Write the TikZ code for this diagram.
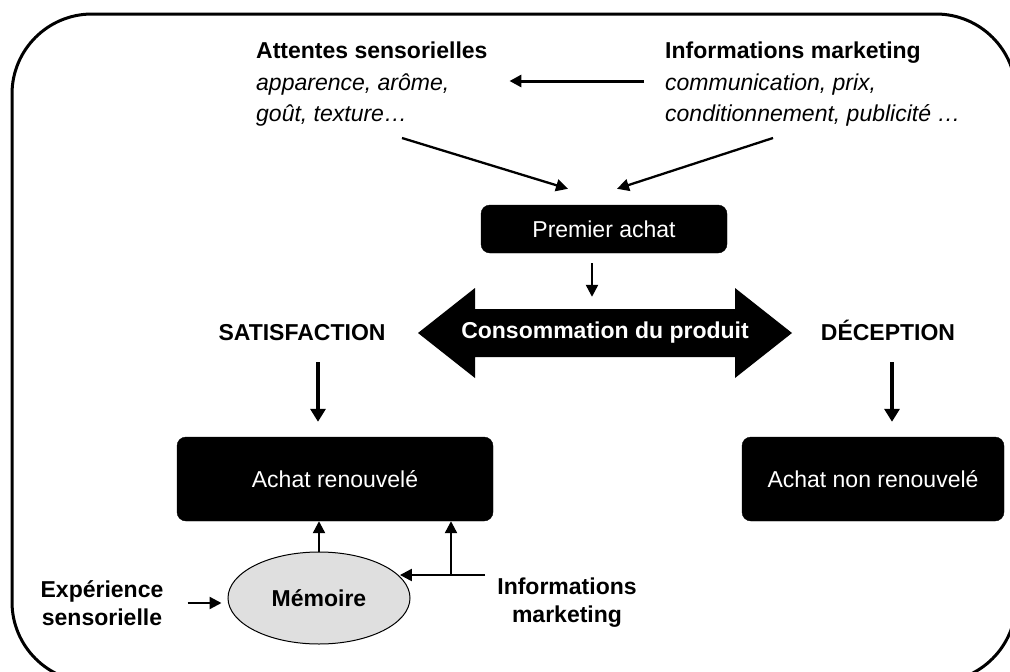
\documentclass[tikz,border=0pt]{standalone}
\usepackage{fontspec}
\setmainfont{Liberation Sans}
\usetikzlibrary{arrows.meta,shapes.geometric,calc}
\begin{document}
\begin{tikzpicture}[x=1pt,y=-1pt,
  every node/.style={font=\fontsize{23}{28}\selectfont, inner sep=0pt},
  boldtxt/.style={font=\fontsize{23}{28}\selectfont\bfseries},
  itxt/.style={font=\fontsize{23}{28}\selectfont\itshape},
  blackbox/.style={fill=black, draw=black, text=white, rounded corners=9pt},
  thinarrow/.style={line width=2.3pt, -{Triangle[length=12pt,width=12pt]}},
  thickarrow/.style={line width=4pt, -{Triangle[length=13pt,width=15pt]}},
  frame/.style={line width=3pt, rounded corners=80pt}]
\useasboundingbox (0,0) rectangle (1010,672);
\begin{scope}
\clip (0,0) rectangle (1010,672);
\draw[frame] (12,14) rectangle (1016,682);
\end{scope}

% top text blocks
\node[boldtxt, anchor=base west] (att1) at (256,58) {Attentes sensorielles};
\node[itxt, anchor=base west] (att2) at (256,90) {apparence, arôme,};
\node[itxt, anchor=base west] (att3) at (256,121) {goût, texture…};
\node[boldtxt, anchor=base west] (inf1) at (665,58) {Informations marketing};
\node[itxt, anchor=base west] (inf2) at (665,90) {communication, prix,};
\node[itxt, anchor=base west] (inf3) at (665,121) {conditionnement, publicité …};

\coordinate (hs) at (644,81);
\draw[thinarrow, line width=3pt, shorten >=60pt] (hs) -- (hs -| att2.east);

% premier achat
\node[blackbox, minimum width=246pt, minimum height=48pt] (premier) at (604,229) {Premier achat};
\coordinate (dl) at (402,138);
\coordinate (dr) at (773,138);
\draw[thinarrow] (dl) -- ([xshift=-36pt,yshift=16pt]premier.north);
\draw[thinarrow] (dr) -- ([xshift=13pt,yshift=16pt]premier.north);

% consommation double arrow
\fill[black] (418,333) -- (475,288) -- (475,309) -- (735,309) -- (735,288) -- (792,333)
  -- (735,378) -- (735,357) -- (475,357) -- (475,378) -- cycle;
\node[boldtxt, text=white, minimum width=260pt, minimum height=48pt] (conso) at (605,333) {Consommation du produit};
\draw[thinarrow, shorten <=10pt, shorten >=12pt] ([xshift=-12pt]premier.south) -- ([xshift=-12pt]premier.south |- conso.north);

% satisfaction / deception
\node[boldtxt, anchor=base] (satis) at (302,340) {SATISFACTION};
\node[boldtxt, anchor=base] (decep) at (888,340) {DÉCEPTION};
\node[blackbox, minimum width=316pt, minimum height=84pt] (renouv) at (335,479) {Achat renouvelé};
\node[blackbox, minimum width=262pt, minimum height=84pt] (nonren) at (873,479) {Achat non renouvelé};
\draw[thickarrow, shorten <=22pt, shorten >=15pt] ([xshift=16pt]satis.south) -- ([xshift=16pt]satis.south |- renouv.north);
\draw[thickarrow, shorten <=22pt, shorten >=15pt] ([xshift=4pt]decep.south) -- ([xshift=4pt]decep.south |- nonren.north);

% memoire
\node[ellipse, draw=black, line width=1pt, fill=gray!25, boldtxt, minimum width=182pt, minimum height=92pt] (mem) at (319,598) {Mémoire};
\draw[thinarrow] (mem.north) -- (mem.north |- renouv.south);
\node[boldtxt, align=center] (exp) at (102,603) {Expérience\\sensorielle};
\node[boldtxt, align=center] (inf4) at (567,603) {Informations\\marketing};
\draw[thinarrow, shorten <=24pt, shorten >=6pt] (exp.east) -- (exp.east -| mem.west);
\coordinate (ih) at (485,575);
\draw[thinarrow] (ih) -- (ih -| mem.15);
\coordinate (vb) at (451,575);
\draw[thinarrow] (vb) -- (vb |- renouv.south);
\end{tikzpicture}
\end{document}
